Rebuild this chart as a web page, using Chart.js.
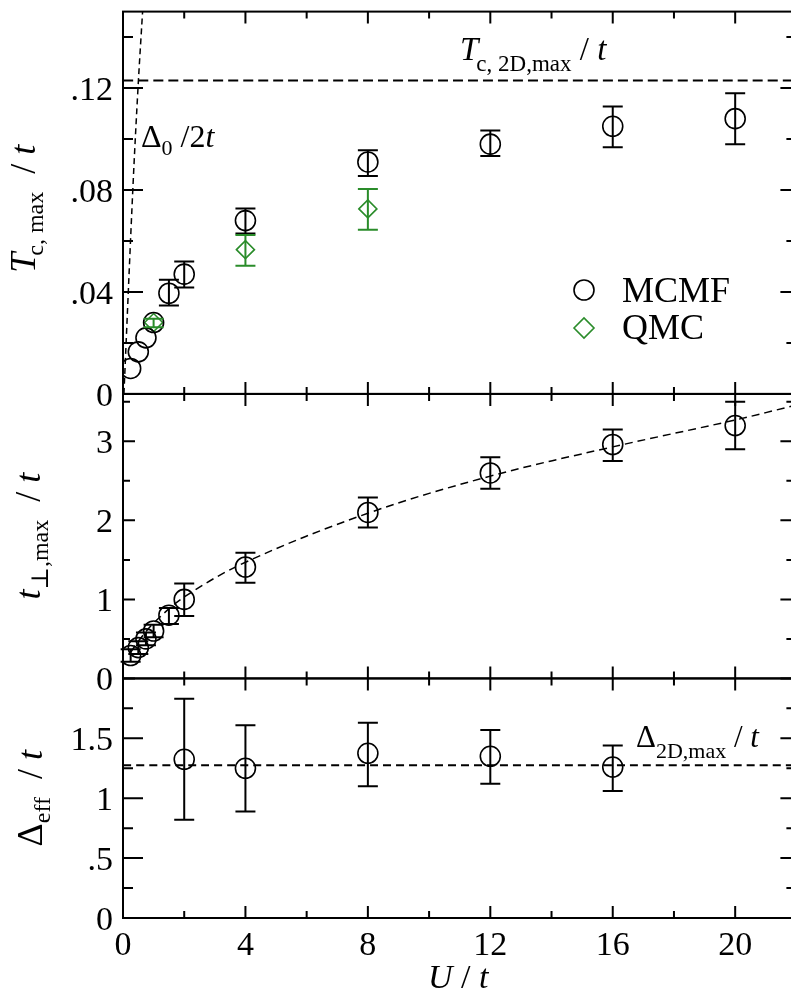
<!DOCTYPE html>
<html>
<head>
<meta charset="utf-8">
<script src="https://cdn.jsdelivr.net/npm/chart.js@4.4.1/dist/chart.umd.min.js"></script>
<style>
  html, body { margin: 0; padding: 0; background: #fff; overflow: hidden; }
  #wrap { width: 791px; height: 994px; overflow: hidden; }
</style>
</head>
<body>
<div id="wrap"><canvas id="c" width="808" height="994"></canvas></div>
<script>
// --- data ---
// top panel: Tc,max / t
const uMcmfTop = [0.25, 0.5, 0.75, 1, 1.5, 2, 4, 8, 12, 16, 20];
const tcMcmf   = [0.010, 0.0165, 0.022, 0.028, 0.0395, 0.047, 0.068, 0.091, 0.098, 0.105, 0.108];
const tcMcmfLo = [0.010, 0.0165, 0.022, 0.028, 0.0347, 0.0418, 0.0629, 0.0855, 0.0933, 0.0968, 0.098];
const tcMcmfHi = [0.010, 0.0165, 0.022, 0.028, 0.0448, 0.0520, 0.0727, 0.0956, 0.1034, 0.1128, 0.118];
const uQmc   = [1, 4, 8];
const tcQmc  = [0.028, 0.0566, 0.0726];
const tcQmcLo = [0.0262, 0.0503, 0.0644];
const tcQmcHi = [0.0295, 0.0624, 0.0804];
const gapLineU  = [0.03, 0.32, 0.49, 0.64];      // Delta0 / 2t
const gapLineTc = [0, 0.08, 0.12, 0.15];
const tc2dMax = 0.123;

// middle panel: t_perp,max / t
const uMid   = [0.25, 0.5, 0.75, 1, 1.5, 2, 4, 8, 12, 16, 20];
const tPerp   = [0.29, 0.39, 0.50, 0.60, 0.80, 1.00, 1.41, 2.10, 2.60, 2.96, 3.20];
const tPerpLo = [0.21, 0.31, 0.42, 0.52, 0.69, 0.79, 1.21, 1.91, 2.40, 2.75, 2.90];
const tPerpHi = [0.37, 0.47, 0.58, 0.68, 0.89, 1.20, 1.59, 2.29, 2.80, 3.15, 3.50];
const fitU = [0.25, 0.5, 1, 2, 4, 8, 12, 16, 20, 22];
const fitT = [0.33, 0.47, 0.70, 1.03, 1.47, 2.09, 2.56, 2.93, 3.27, 3.46];

// bottom panel: Delta_eff / t
const uBot    = [2, 4, 8, 12, 16];
const dEff    = [1.325, 1.25, 1.375, 1.35, 1.26];
const dEffLo  = [0.82, 0.89, 1.10, 1.12, 1.06];
const dEffHi  = [1.83, 1.61, 1.63, 1.57, 1.44];
const d2dMax = 1.275;

// ticks
const xMajor = [0, 4, 8, 12, 16, 20];
const xMinor = [2, 6, 10, 14, 18];
const xLabels = ['0', '4', '8', '12', '16', '20'];
const topMajor = [0, 0.04, 0.08, 0.12], topMinor = [0.02, 0.06, 0.10, 0.14];
const topLabels = ['0', '.04', '.08', '.12'];
const midMajor = [0, 1, 2, 3], midMinor = [0.5, 1.5, 2.5, 3.5];
const midLabels = ['0', '1', '2', '3'];
const botMajor = [0, 0.5, 1, 1.5], botMinor = [0.25, 0.75, 1.25, 1.75];
const botLabels = ['0', '.5', '1', '1.5'];

const GREEN = '#2a8c2a';
const SERIF = '"Liberation Serif", "DejaVu Serif", serif';

const pts = (xs, ys) => xs.map((x, i) => ({ x: x, y: ys[i] }));

const circleSet = (xs, ys, axis) => ({
  data: pts(xs, ys), yAxisID: axis, showLine: false,
  pointStyle: 'circle', pointRadius: 10, borderWidth: 1.6,
  borderColor: '#000', backgroundColor: 'rgba(0,0,0,0)'
});
const dashSet = (xs, ys, axis, dash, w) => ({
  data: pts(xs, ys), yAxisID: axis, showLine: true, pointRadius: 0,
  borderColor: '#000', borderWidth: w, borderDash: dash, tension: 0.35, fill: false
});

const errorBars = [
  { axis: 'yTop', xs: uMcmfTop, lo: tcMcmfLo, hi: tcMcmfHi, color: '#000' },
  { axis: 'yTop', xs: uQmc, lo: tcQmcLo, hi: tcQmcHi, color: GREEN },
  { axis: 'yMid', xs: uMid, lo: tPerpLo, hi: tPerpHi, color: '#000' },
  { axis: 'yBot', xs: uBot, lo: dEffLo, hi: dEffHi, color: '#000' }
];

const panels = [
  { axis: 'yTop', major: topMajor, minor: topMinor, labels: topLabels, lmaj: 20, lmin: 10 },
  { axis: 'yMid', major: midMajor, minor: midMinor, labels: midLabels, lmaj: 12, lmin: 7 },
  { axis: 'yBot', major: botMajor, minor: botMinor, labels: botLabels, lmaj: 20, lmin: 10 }
];

// draws a run of text pieces [text, font, dy, dx] starting at x
function richWidth(ctx, parts) {
  let w = 0;
  parts.forEach(p => { ctx.font = p[1]; w += ctx.measureText(p[0]).width + (p[3] || 0); });
  return w;
}
function drawRich(ctx, parts, x, y) {
  parts.forEach(p => {
    ctx.font = p[1];
    ctx.fillText(p[0], x, y + (p[2] || 0));
    x += ctx.measureText(p[0]).width + (p[3] || 0);
  });
}
function drawVertical(ctx, parts, cx, cy) {
  ctx.save();
  ctx.translate(cx, cy);
  ctx.rotate(-Math.PI / 2);
  const w = richWidth(ctx, parts);
  drawRich(ctx, parts, -w / 2, 0);
  ctx.restore();
}

const decor = {
  id: 'decor',
  afterDatasetsDraw(chart) {
    const ctx = chart.ctx, xs = chart.scales.x;
    ctx.save();
    ctx.lineWidth = 2;
    errorBars.forEach(eb => {
      const ys = chart.scales[eb.axis];
      ctx.strokeStyle = eb.color;
      eb.xs.forEach((u, i) => {
        if (eb.hi[i] <= eb.lo[i]) return;
        const px = xs.getPixelForValue(u);
        const y1 = ys.getPixelForValue(eb.lo[i]), y2 = ys.getPixelForValue(eb.hi[i]);
        ctx.beginPath();
        ctx.moveTo(px, y1); ctx.lineTo(px, y2);
        ctx.moveTo(px - 10, y1); ctx.lineTo(px + 10, y1);
        ctx.moveTo(px - 10, y2); ctx.lineTo(px + 10, y2);
        ctx.stroke();
      });
    });
    ctx.restore();
  },
  afterDraw(chart) {
    const ctx = chart.ctx, xs = chart.scales.x, a = chart.chartArea;
    ctx.save();
    ctx.strokeStyle = '#000';
    ctx.fillStyle = '#000';
    ctx.lineWidth = 2;
    ctx.textBaseline = 'alphabetic';

    panels.forEach(p => {
      const s = chart.scales[p.axis];
      ctx.strokeRect(a.left, s.top, a.right - a.left, s.bottom - s.top);
      ctx.beginPath();
      // x ticks on top and bottom edge of each panel, pointing inward
      xMajor.forEach(v => {
        const px = xs.getPixelForValue(v);
        ctx.moveTo(px, s.top); ctx.lineTo(px, s.top + 12);
        ctx.moveTo(px, s.bottom); ctx.lineTo(px, s.bottom - 12);
      });
      xMinor.forEach(v => {
        const px = xs.getPixelForValue(v);
        ctx.moveTo(px, s.top); ctx.lineTo(px, s.top + 7);
        ctx.moveTo(px, s.bottom); ctx.lineTo(px, s.bottom - 7);
      });
      // y ticks left and right
      p.major.forEach(v => {
        const py = s.getPixelForValue(v);
        ctx.moveTo(a.left, py); ctx.lineTo(a.left + p.lmaj, py);
        ctx.moveTo(a.right, py); ctx.lineTo(a.right - 16, py);
      });
      p.minor.forEach(v => {
        const py = s.getPixelForValue(v);
        ctx.moveTo(a.left, py); ctx.lineTo(a.left + p.lmin, py);
        ctx.moveTo(a.right, py); ctx.lineTo(a.right - 10, py);
      });
      ctx.stroke();
      // y tick labels
      ctx.font = '34px ' + SERIF;
      ctx.textAlign = 'right';
      p.major.forEach((v, i) => {
        ctx.fillText(p.labels[i], a.left - 10, s.getPixelForValue(v) + 12);
      });
    });

    // x tick labels
    ctx.font = '34px ' + SERIF;
    ctx.textAlign = 'center';
    xMajor.forEach((v, i) => ctx.fillText(xLabels[i], xs.getPixelForValue(v), a.bottom + 37));

    ctx.textAlign = 'left';
    const it = s => 'italic ' + s + 'px ' + SERIF, rm = s => s + 'px ' + SERIF;
    // x title
    drawRich(ctx, [['U', it(34)], [' / ', rm(34)], ['t', it(34)]], 428, a.bottom + 70);

    // y titles
    const yT = chart.scales.yTop, yM = chart.scales.yMid, yB = chart.scales.yBot;
    drawVertical(ctx, [['T', it(36), 0, -3], ['c, max', rm(24), 8], ['  / ', rm(36)], ['t', it(36)]], 35, (yT.top + yT.bottom) / 2 + 6);
    drawVertical(ctx, [['t', it(36)], ['\u22A5,max', rm(24), 8], ['  / ', rm(36)], ['t', it(36)]], 40, (yM.top + yM.bottom) / 2);
    drawVertical(ctx, [['\u0394', rm(36)], ['eff', rm(24), 8], ['  / ', rm(36)], ['t', it(36)]], 42, (yB.top + yB.bottom) / 2);

    // in-plot annotations
    drawRich(ctx, [['\u0394', rm(32)], ['0', rm(22), 8], [' /2', rm(32)], ['t', it(32)]], 141, 147);
    drawRich(ctx, [['T', it(33), 0, -2], ['c, 2D,max', rm(23), 11], [' / ', rm(33)], ['t', it(33)]], 460, 60);
    drawRich(ctx, [['\u0394', rm(31)], ['2D,max', rm(22), 11], [' / ', rm(31)], ['t', it(31)]], 636, 747);

    // legend
    ctx.lineWidth = 1.6;
    ctx.beginPath();
    ctx.arc(584, 290, 10, 0, Math.PI * 2);
    ctx.stroke();
    ctx.strokeStyle = GREEN;
    ctx.beginPath();
    ctx.moveTo(574, 328); ctx.lineTo(584, 318); ctx.lineTo(594, 328); ctx.lineTo(584, 338); ctx.closePath();
    ctx.stroke();
    ctx.font = rm(36);
    ctx.fillText('MCMF', 622, 302);
    ctx.fillText('QMC', 622, 339);
    ctx.restore();
  }
};

const hideAxis = {
  display: true,
  ticks: { display: false },
  grid: { display: false },
  border: { display: false }
};

// stacked axes are placed bottom-up in definition order
new Chart(document.getElementById('c'), {
  type: 'scatter',
  data: {
    datasets: [
      dashSet(gapLineU, gapLineTc, 'yTop', [6, 4], 1.5),
      dashSet([0, 22], [tc2dMax, tc2dMax], 'yTop', [10, 5], 2),
      circleSet(uMcmfTop, tcMcmf, 'yTop'),
      {
        data: pts(uQmc, tcQmc), yAxisID: 'yTop', showLine: false,
        pointStyle: 'rectRot', pointRadius: 9, borderWidth: 1.6,
        borderColor: GREEN, backgroundColor: 'rgba(0,0,0,0)'
      },
      dashSet(fitU, fitT, 'yMid', [8, 5], 1.5),
      circleSet(uMid, tPerp, 'yMid'),
      dashSet([0, 22], [d2dMax, d2dMax], 'yBot', [8, 5], 2),
      circleSet(uBot, dEff, 'yBot')
    ]
  },
  options: {
    responsive: false,
    devicePixelRatio: 1,
    animation: false,
    events: [],
    layout: { padding: { left: 123, right: 4, top: 10, bottom: 76 } },
    plugins: { legend: { display: false }, tooltip: { enabled: false } },
    scales: {
      x: Object.assign({ type: 'linear', min: 0, max: 22, afterFit: s => { s.height = 0; } }, hideAxis),
      yBot: Object.assign({ type: 'linear', position: 'left', min: 0, max: 2, stack: 'panels', stackWeight: 240, afterFit: s => { s.width = 0; } }, hideAxis),
      yMid: Object.assign({ type: 'linear', position: 'left', min: 0, max: 3.6, stack: 'panels', stackWeight: 285, afterFit: s => { s.width = 0; } }, hideAxis),
      yTop: Object.assign({ type: 'linear', position: 'left', min: 0, max: 0.15, stack: 'panels', stackWeight: 383, afterFit: s => { s.width = 0; } }, hideAxis)
    }
  },
  plugins: [decor]
});
</script>
</body>
</html>
